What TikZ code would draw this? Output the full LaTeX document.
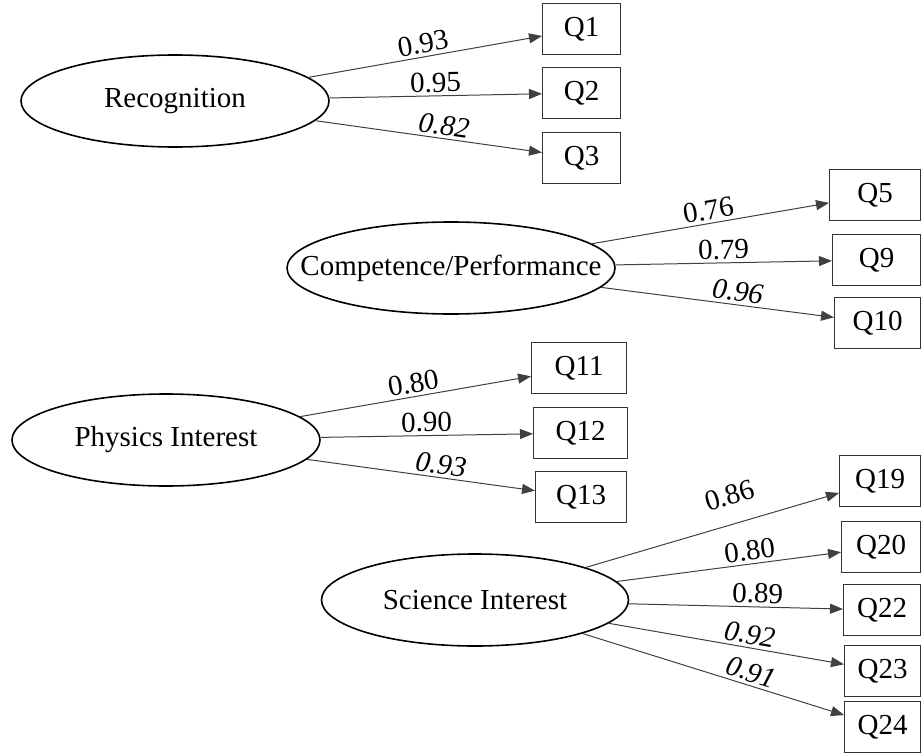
\documentclass[tikz,border=0pt]{standalone}
\usepackage{fontspec}
\setmainfont{Liberation Serif}
\usetikzlibrary{arrows.meta, shapes.geometric}

\begin{document}
\begin{tikzpicture}[x=1pt, y=-1pt,
  every node/.style={font=\fontsize{29}{34}\selectfont},
  latent/.style={ellipse, draw=black, line width=1.6pt, minimum height=92pt, inner sep=0pt},
  item/.style={rectangle, draw=black!80, line width=1.2pt, minimum height=51pt, inner sep=0pt, anchor=west},
  load/.style={draw=black!75, line width=1pt, -{Triangle[length=13pt, width=10pt]}},
  lbl/.style={sloped, above, inner sep=3pt},
  lbli/.style={lbl, font=\fontsize{29}{34}\selectfont\itshape}]
\useasboundingbox (0,0) rectangle (922,755);

% factors
\node[latent, minimum width=308pt] (recog) at (175,101) {\makebox[0pt]{Recognition}};
\node[latent, minimum width=328pt] (comp) at (451,268) {\makebox[0pt]{Competence/Performance}};
\node[latent, minimum width=308pt] (phys) at (166,440) {\makebox[0pt]{Physics Interest}};
\node[latent, minimum width=307pt] (sci) at (475,600) {\makebox[0pt]{Science Interest}};

% items
\node[item, minimum width=78pt] (q1) at (542,29) {Q1};
\node[item, minimum width=78pt] (q2) at (542,93) {Q2};
\node[item, minimum width=78pt] (q3) at (542,158) {Q3};
\node[item, minimum width=91pt] (q5) at (829,195) {Q5};
\node[item, minimum width=88pt] (q9) at (832,260) {Q9};
\node[item, minimum width=86pt] (q10) at (834,323) {Q10};
\node[item, minimum width=95pt] (q11) at (531,368) {Q11};
\node[item, minimum width=94pt] (q12) at (533,433) {Q12};
\node[item, minimum width=91pt] (q13) at (535,497) {Q13};
\node[item, minimum width=81pt] (q19) at (839,481) {Q19};
\node[item, minimum width=79pt] (q20) at (841,547) {Q20};
\node[item, minimum width=77pt] (q22) at (843,610) {Q22};
\node[item, minimum width=76pt] (q23) at (844,671) {Q23};
\node[item, minimum width=76pt] (q24) at (844,727) {Q24};

% loadings
\draw[load] (recog) -- node[lbl] {0.93} (q1);
\draw[load] (recog) -- node[lbl] {0.95} (q2);
\draw[load] (recog) -- node[lbli, pos=.56] {0.82} (q3);
\draw[load] (comp) -- node[lbl] {0.76} (q5);
\draw[load] (comp) -- node[lbl] {0.79} (q9);
\draw[load] (comp) -- node[lbli, pos=.58] {0.96} (q10);
\draw[load] (phys) -- node[lbl] {0.80} (q11);
\draw[load] (phys) -- node[lbl] {0.90} (q12);
\draw[load] (phys) -- node[lbli, pos=.58] {0.93} (q13);
\draw[load] (sci) -- node[lbl, pos=.6, above=15pt] {0.86} (q19); %higher up
\draw[load] (sci) -- node[lbl, pos=.6] {0.80} (q20);
\draw[load] (sci) -- node[lbl, pos=.6] {0.89} (q22);
\draw[load] (sci) -- node[lbli, pos=.59] {0.92} (q23);
\draw[load] (sci) -- node[lbli, pos=.63] {0.91} (q24); %last item
\end{tikzpicture}
\end{document}
